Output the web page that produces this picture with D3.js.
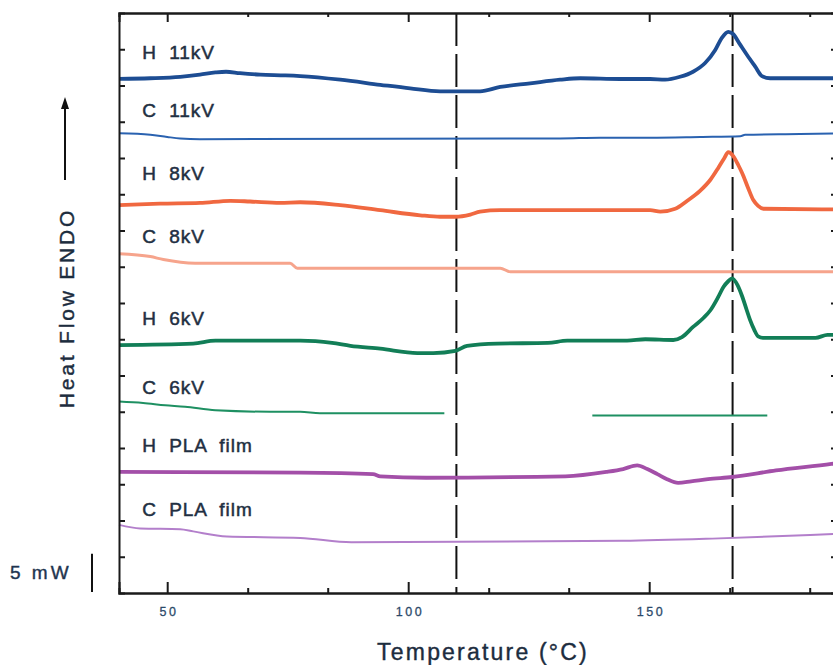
<!DOCTYPE html>
<html><head><meta charset="utf-8">
<script src="https://cdn.jsdelivr.net/npm/d3@7"></script>
<style>body{margin:0;background:#fff;} svg{display:block;font-family:"Liberation Sans",Arial,sans-serif;}</style>
</head><body><svg id="chart" width="833" height="665"></svg>
<script>
// ---------- data (temperature in °C, heat flow in mW, curves vertically offset) ----------
const seriesNames = ["H 11kV","C 11kV","H 8kV","C 8kV","H 6kV","C 6kV","H PLA film","C PLA film"];

const tH11 = [40,46.5,52.7,56.8,60.0,62.2,65.1,69.3,74.5,77.6,85.9,94.2,100.4,106.6,112.9,114.9,119.1,125.3,131.5,135.7,144.0,150.2,153.3,156.4,159.1,161.6,163.7,165.1,166.4,167.4,168.8,170.3,172.0,173.4,175.1,190];
const vH11 = [70.9,71.0,71.2,71.5,71.8,71.9,71.7,71.5,71.4,71.3,70.8,70.1,69.6,69.2,69.2,69.2,69.8,70.3,70.8,71.0,70.9,70.9,70.8,71.2,71.9,73.1,74.9,76.6,77.4,77.1,75.7,74.2,72.6,71.3,71.0,71.0];

const tC11 = [40,46.5,50,52.7,56.8,131.5,139.8,150.2,160.6,168.9,169.9,181.3,190];
const vC11 = [63.4,63.2,62.9,62.7,62.6,62.7,62.8,62.8,62.9,63.0,63.2,63.3,63.4];

const tH8 = [40,48.5,56.8,63.1,67.2,73.4,77.6,85.9,94.2,102.5,106.6,109.8,112.9,114.9,119.1,123.2,135.7,150.2,152.3,155.4,157.9,160.6,162.7,164.3,165.6,166.4,167.4,168.5,169.3,170.5,171.6,172.6,173.7,190];
const vH8 = [53.5,53.7,53.8,54.1,54.0,53.8,53.9,53.5,52.8,52.1,51.9,51.9,52.2,52.6,52.8,52.8,52.8,52.8,52.6,53.0,54.1,55.5,57.0,58.6,60.0,60.8,60.3,59.0,57.9,55.9,54.2,53.4,53.0,52.9];

const tC8 = [40,46.5,49.2,55.8,75.5,77.0,119.1,121.2,190];
const vC8 = [46.8,46.4,46.0,45.5,45.5,44.8,44.8,44.3,44.3];

const tH6 = [40,55.4,60.0,77.6,84.2,88.0,94.2,101.9,105.2,109.8,112.2,118.5,129.0,133.0,145.4,149.2,155.0,156.8,159.1,161.2,162.7,164.3,165.4,166.4,167.2,168.3,169.3,170.1,170.9,171.8,172.6,173.6,184.5,187.0,190];
const vH6 = [34.2,34.4,34.8,34.8,34.5,34.1,33.7,33.1,33.1,33.4,34.1,34.4,34.5,34.8,34.8,35.0,34.9,35.3,36.7,37.9,39.0,40.8,42.2,43.0,43.4,42.5,40.9,39.3,37.7,36.3,35.4,35.2,35.2,35.6,35.6];

// C 6kV trace has a gap in the recorded curve (null = no data)
const tC6 = [40,45.0,49.6,53.7,60.0,71.4,77.6,81.7,107.5,120,138.2,174.5];
const vC6 = [26.4,26.2,25.9,25.7,25.2,25.0,25.0,24.8,24.8,null,24.5,24.5];

const tHP = [40,77.6,92.7,94.2,103.7,132.6,141.1,144.6,147.5,149.6,151.7,153.7,156.0,158.7,162.2,167.2,176.3,187.8,190];
const vHP = [16.7,16.6,16.4,16.1,15.9,16.1,16.7,17.1,17.6,17.1,16.4,15.7,15.2,15.4,15.7,16.0,16.9,17.8,18.0];

const tCP = [40,44.4,52.7,55.4,62.4,77.6,88.2,144.6,163.1,183.4,190];
const vCP = [9.4,8.9,8.8,8.5,7.8,7.6,7.0,7.2,7.5,8.0,8.2];

const seriesT = [tH11,tC11,tH8,tC8,tH6,tC6,tHP,tCP];
const seriesV = [vH11,vC11,vH8,vC8,vH6,vC6,vHP,vCP];

// label levels (mW) for curve names
const labelLevels = [74.6,66.6,57.9,49.2,37.9,28.4,20.4,11.5];

const xMajorTicks = [50,100,150];
const xTickLabels = ["50","100","150"];
const xMinorTicks = [66.7,83.3,116.7,133.3,166.7,183.3];
const yTicks = [5,10,15,20,25,30,35,40,45,50,55,60,65,70,75];
const markerTemps = [110,167.3];
const scaleBarMW = 5;

// ---------- styles ----------
const styles = {
  "H 11kV":{color:"#1d4d93",width:3.8},
  "C 11kV":{color:"#2a62b0",width:2},
  "H 8kV":{color:"#f06840",width:3.8},
  "C 8kV":{color:"#f6a48c",width:3},
  "H 6kV":{color:"#127e57",width:3.8},
  "C 6kV":{color:"#1e9062",width:2},
  "H PLA film":{color:"#a34fa8",width:3.8},
  "C PLA film":{color:"#b37fcb",width:2}
};

// ---------- scales ----------
const svg = d3.select("#chart");
const x = d3.scaleLinear().domain([40,190]).range([119,842]);
const y = d3.scaleLinear().domain([0,80]).range([593,13]);
const X0 = x.range()[0], X1 = x.range()[1], Y0 = y.range()[0], Y1 = y.range()[1];

// dashed reference lines
svg.selectAll("line.marker").data(markerTemps).enter().append("line")
  .attr("x1",d=>x(d)).attr("x2",d=>x(d)).attr("y1",Y1).attr("y2",Y0)
  .attr("stroke","#111").attr("stroke-width",2).attr("stroke-dasharray","33,8");

// curves
const line = d3.line().defined(d=>d.v!==null).x(d=>x(d.t)).y(d=>y(d.v)).curve(d3.curveMonotoneX);
seriesNames.forEach((name,i)=>{
  const pts = seriesT[i].map((t,j)=>({t:t,v:seriesV[i][j]}));
  svg.append("path").datum(pts).attr("d",line).attr("fill","none")
    .attr("stroke",styles[name].color).attr("stroke-width",styles[name].width)
    .attr("stroke-linejoin","round");
});

// axes
const axG = svg.append("g");
axG.append("g").attr("transform",`translate(0,${Y0})`)
  .call(d3.axisBottom(x).tickValues(xMajorTicks).tickSize(-11).tickPadding(14).tickFormat((d,i)=>xTickLabels[i]));
axG.append("g").attr("transform",`translate(0,${Y0})`)
  .call(d3.axisBottom(x).tickValues(xMinorTicks).tickSize(-5).tickFormat(""));
axG.append("g").attr("transform",`translate(0,${Y1})`)
  .call(d3.axisTop(x).tickValues(xMajorTicks).tickSize(-9).tickFormat(""));
axG.append("g").attr("transform",`translate(0,${Y1})`)
  .call(d3.axisTop(x).tickValues(xMinorTicks).tickSize(-4).tickFormat(""));
axG.append("g").attr("transform",`translate(${X0},0)`)
  .call(d3.axisLeft(y).tickValues(yTicks).tickSize(-6).tickFormat(""));
axG.append("g").attr("transform",`translate(${X1},0)`)
  .call(d3.axisRight(y).tickValues(yTicks).tickSize(-11).tickFormat(""));
axG.selectAll(".domain").attr("stroke","#1a1a1a").attr("stroke-width",2);
axG.selectAll(".tick line").attr("stroke","#1a1a1a").attr("stroke-width",2);
axG.selectAll(".tick text").attr("font-size",12.5).attr("letter-spacing","2.5px")
  .attr("fill","#2c4a6a").attr("dx","1.2px").attr("font-family","Liberation Sans, Arial, sans-serif")
  .attr("stroke","#2c4a6a").attr("stroke-width",0.3);

// curve name labels
svg.selectAll("text.lab").data(seriesNames).enter().append("text")
  .attr("x",x(44.8)).attr("y",(d,i)=>y(labelLevels[i]))
  .attr("dominant-baseline","central")
  .attr("font-size",19).attr("letter-spacing","1px").attr("word-spacing","6px")
  .attr("fill","#1f2f42").attr("stroke","#1f2f42").attr("stroke-width",0.5).text(d=>d);

// x axis title
svg.append("text").attr("x",483).attr("y",652)
  .attr("text-anchor","middle").attr("dominant-baseline","central")
  .attr("font-size",23).attr("letter-spacing","2.2px").attr("fill","#1c2c3e")
  .attr("stroke","#1c2c3e").attr("stroke-width",0.4)
  .text("Temperature (°C)");

// y axis title
svg.append("text").attr("transform","translate(66,308) rotate(-90)")
  .attr("text-anchor","middle").attr("dominant-baseline","central")
  .attr("font-size",21).attr("letter-spacing","2.8px").attr("fill","#1c2c3e")
  .attr("stroke","#1c2c3e").attr("stroke-width",0.4)
  .text("Heat Flow ENDO");

// arrow
svg.append("line").attr("x1",65).attr("x2",65).attr("y1",180).attr("y2",104)
  .attr("stroke","#111").attr("stroke-width",2);
svg.append("path").attr("d","M65,97 L61,109 L69,109 Z").attr("fill","#111");

// scale bar
svg.append("text").attr("x",10).attr("y",572).attr("dominant-baseline","central")
  .attr("font-size",19).attr("letter-spacing","3px").attr("fill","#1f3550")
  .attr("stroke","#1f3550").attr("stroke-width",0.4).text("5 mW");
svg.append("line").attr("x1",92).attr("x2",92).attr("y1",y(0)-1).attr("y2",y(scaleBarMW)-3)
  .attr("stroke","#111").attr("stroke-width",2);
</script></body></html>
